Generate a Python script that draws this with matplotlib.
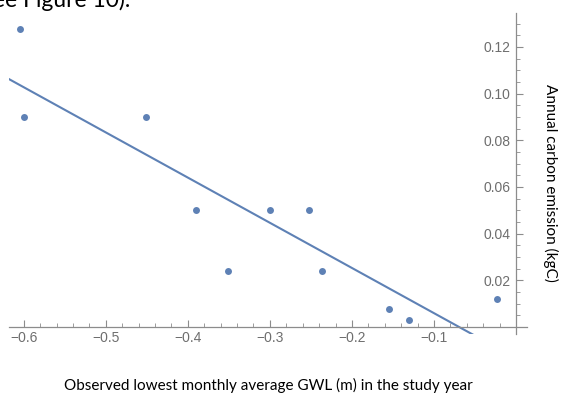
import numpy as np
import matplotlib.pyplot as plt
from matplotlib.ticker import MultipleLocator, FuncFormatter

# observed lowest monthly average GWL (m) and annual carbon emission (kgC)
gwl = [-0.605, -0.600, -0.451, -0.390, -0.351, -0.300, -0.252, -0.236, -0.155, -0.130, -0.023]
emission = [0.1275, 0.090, 0.090, 0.050, 0.024, 0.050, 0.050, 0.024, 0.0078, 0.003, 0.0121]
xticks = [-0.6, -0.5, -0.4, -0.3, -0.2, -0.1]
yticks = [0.02, 0.04, 0.06, 0.08, 0.10, 0.12]

blue = "#5e81b5"
grey = "#8c8c8c"

fig = plt.figure(figsize=(5.61, 3.96), dpi=100)
ax = fig.add_axes([9/561, 1-334/396, 518/561, 321/396])

# least squares fit
slope, icpt = np.polyfit(gwl, emission, 1)
xs = np.linspace(-0.62, 0.02, 50)
ax.plot(xs, icpt + slope*xs, color=blue, lw=1.5)
ax.plot(gwl, emission, "o", color=blue, ms=5, mec="none")

ax.set_xlim(-0.618, 0.0134)
ax.set_ylim(-0.003, 0.1345)

# axes crossing at origin, mathematica style
for s in ["top", "right"]:
    ax.spines[s].set_visible(False)
ax.spines["bottom"].set_position(("data", 0))
ax.spines["left"].set_position(("data", 0))
for s in ["bottom", "left"]:
    ax.spines[s].set_color(grey)
    ax.spines[s].set_linewidth(0.9)

ax.set_xticks(xticks)
ax.set_yticks(yticks)
ax.xaxis.set_minor_locator(MultipleLocator(0.02))
ax.yaxis.set_minor_locator(MultipleLocator(0.005))
ax.xaxis.set_major_formatter(FuncFormatter(lambda v, p: ("%.1f" % v).replace("-", "\u2212")))
ax.yaxis.set_major_formatter(FuncFormatter(lambda v, p: "%.2f" % v))
ax.tick_params(which="major", direction="in", length=5, width=0.8, color=grey,
               labelcolor="#6e6e6e", labelsize=10, pad=3)
ax.tick_params(which="minor", direction="in", length=3, width=0.6, color=grey)
ax.tick_params(axis="y", which="both", pad=4)
for lab in ax.get_xticklabels() + ax.get_yticklabels():
    lab.set_family("Liberation Sans")
ax.patch.set_alpha(0)

fig.text(268/561, 1-385/396, "Observed lowest monthly average GWL (m) in the study year",
         ha="center", va="center", fontsize=11, family="Lato")
fig.text(551/561, 1-183/396, "Annual carbon emission (kgC)", rotation=-90,
         ha="center", va="center", fontsize=11, family="Lato")
# cropped caption from the surrounding document (cut at the top, as in the source)
fig.text(130/561, 1-7/396, "(see Figure 10).", ha="right", va="baseline",
         fontsize=16.5, family="Lato")

fig.savefig("out.png", dpi=100)
